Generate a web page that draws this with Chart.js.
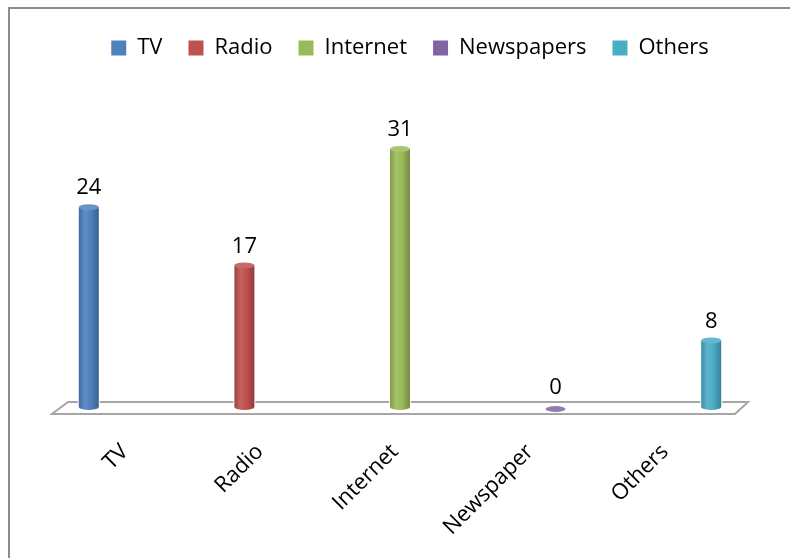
<!DOCTYPE html>
<html>
<head>
<meta charset="utf-8">
<script src="https://cdn.jsdelivr.net/npm/chart.js@4"></script>
<style>
  html, body { margin: 0; padding: 0; background: #fff; }
</style>
</head>
<body>
<canvas id="myChart" width="790" height="558"></canvas>
<script>
const categories = ['TV', 'Radio', 'Internet', 'Newspaper', 'Others']
const legendNames = ['TV', 'Radio', 'Internet', 'Newspapers', 'Others']
const values = [24, 17, 31, 0, 8]
const colors = ['#4f81bd', '#c0504d', '#9bbb59', '#8064a2', '#4bacc6']

const FONT = 'Open Sans'

// mix a hex colour toward white (f > 0) or black (f < 0)
function shade(hex, f) {
    const n = parseInt(hex.slice(1), 16)
    const t = f < 0 ? 0 : 255, p = Math.abs(f)
    const ch = [n >> 16, (n >> 8) & 255, n & 255].map(v => Math.round(v + (t - v) * p))
    return `rgb(${ch[0]}, ${ch[1]}, ${ch[2]})`
}

// grey frame along the top and left edge
const frame = {
    id: 'frame',
    beforeDraw(chart) {
        const ctx = chart.ctx
        ctx.save()
        ctx.strokeStyle = '#8c8c8c'
        ctx.lineWidth = 2
        ctx.beginPath()
        ctx.moveTo(9, chart.height)
        ctx.lineTo(9, 8)
        ctx.lineTo(chart.width, 8)
        ctx.stroke()
        ctx.restore()
    }
}

// nudge the legend a bit to the right of centre
const legendShift = {
    id: 'legendShift',
    afterLayout(chart) {
        chart.legend.left += 10
        chart.legend.right += 10
    }
}

// flat 3d floor under the bars
const floor = {
    id: 'floor',
    beforeDatasetsDraw(chart) {
        const ctx = chart.ctx
        const { left, right } = chart.chartArea
        const y0 = chart.scales.y.getPixelForValue(0)
        ctx.save()
        ctx.beginPath()
        ctx.moveTo(left + 57, y0 - 5)
        ctx.lineTo(right - 41, y0 - 5)
        ctx.lineTo(right - 54, y0 + 7)
        ctx.lineTo(left + 41, y0 + 7)
        ctx.closePath()
        ctx.fillStyle = '#fff'
        ctx.fill()
        ctx.strokeStyle = '#a6a6a6'
        ctx.lineWidth = 2
        ctx.stroke()
        ctx.restore()
    }
}

// redraw each bar as a shaded cylinder and put its value on top
const cylinders = {
    id: 'cylinders',
    afterDatasetsDraw(chart) {
        const ctx = chart.ctx
        const meta = chart.getDatasetMeta(0)
        meta.data.forEach((bar, i) => {
            const { x, y, base, width } = bar.getProps(['x', 'y', 'base', 'width'], true)
            const r = width / 2, ry = 3
            const c = colors[i]
            ctx.save()
            ctx.fillStyle = '#fff'
            ctx.fillRect(x - r - 1, y - 1, width + 2, base - y + 2)
            if (base - y > 1) {
                const g = ctx.createLinearGradient(x - r, 0, x + r, 0)
                g.addColorStop(0, shade(c, -0.18))
                g.addColorStop(0.3, shade(c, 0.1))
                g.addColorStop(0.6, c)
                g.addColorStop(1, shade(c, -0.25))
                ctx.fillStyle = g
                ctx.beginPath()
                ctx.moveTo(x - r, y)
                ctx.lineTo(x - r, base)
                ctx.ellipse(x, base, r, ry, 0, Math.PI, 0, true)
                ctx.lineTo(x + r, y)
                ctx.closePath()
                ctx.fill()
            }
            ctx.fillStyle = shade(c, 0.15)
            ctx.beginPath()
            ctx.ellipse(x, base - y > 1 ? y : y + 2, r, ry, 0, 0, Math.PI * 2)
            ctx.fill()

            ctx.fillStyle = '#000'
            ctx.font = `22px "${FONT}"`
            ctx.textAlign = 'center'
            ctx.textBaseline = 'middle'
            ctx.fillText(values[i], x, y - 19)
            ctx.restore()
        })
    }
}

const ctx = document.getElementById('myChart').getContext('2d')

const myChart = new Chart(ctx, {
    type: 'bar',
    data: {
        labels: categories,
        datasets: [{
            data: values,
            backgroundColor: colors,
            barThickness: 20
        }]
    },
    options: {
        responsive: false,
        animation: false,
        layout: {
            padding: { left: 11, right: 1, top: 11, bottom: 0 }
        },
        scales: {
            x: {
                display: false
            },
            // label axis, spaced a little tighter than the bars
            x2: {
                type: 'linear',
                position: 'bottom',
                offset: false,
                min: -0.844,
                max: 4.919,
                afterBuildTicks: (axis) => {
                    axis.ticks = categories.map((c, i) => ({ value: i }))
                },
                afterFit: (axis) => {
                    axis.height = 151
                },
                grid: { display: false, drawTicks: false },
                border: { display: false },
                ticks: {
                    autoSkip: false,
                    minRotation: 45,
                    maxRotation: 45,
                    padding: 32,
                    color: '#000',
                    font: { family: FONT, size: 22 },
                    callback: (v) => categories[v]
                }
            },
            y: {
                display: false,
                min: 0,
                max: 40.6
            }
        },
        plugins: {
            legend: {
                position: 'top',
                onClick: null,
                labels: {
                    color: '#000',
                    boxWidth: 15,
                    boxHeight: 15,
                    padding: 26,
                    font: { family: FONT, size: 22 },
                    generateLabels: () => legendNames.map((t, i) => ({
                        text: t,
                        fillStyle: colors[i],
                        strokeStyle: colors[i],
                        lineWidth: 0,
                        hidden: false,
                        index: i
                    }))
                }
            },
            tooltip: { enabled: false }
        }
    },
    plugins: [frame, legendShift, floor, cylinders]
})
</script>
</body>
</html>
